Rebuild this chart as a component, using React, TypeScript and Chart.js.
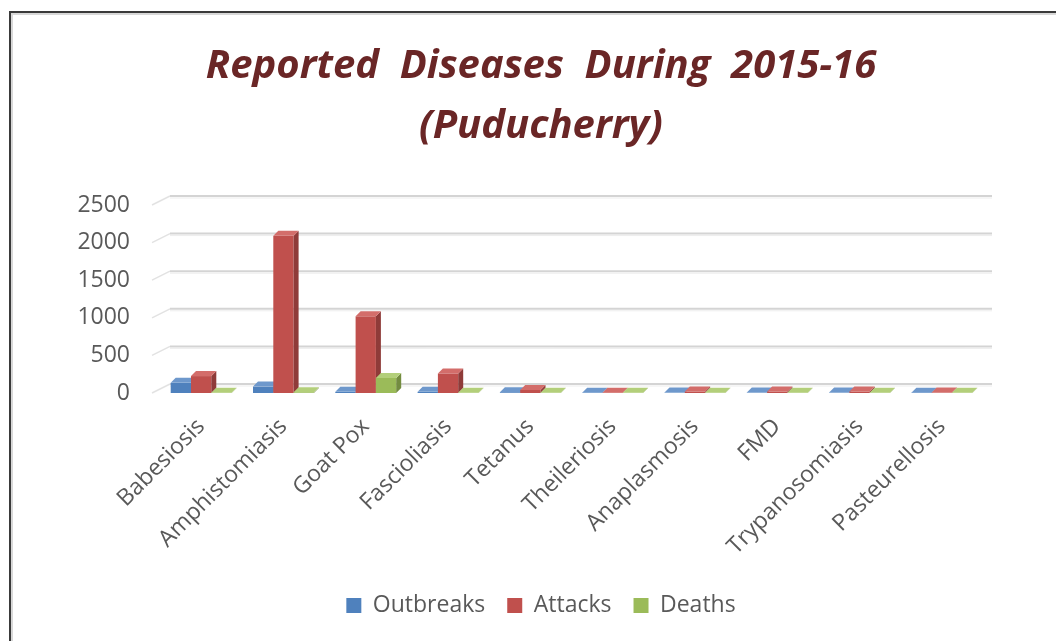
import React, { useEffect, useRef } from "react";
import { Chart, registerables } from "chart.js";

Chart.register(...registerables);

const categories = [
  "Babesiosis",
  "Amphistomiasis",
  "Goat Pox",
  "Fascioliasis",
  "Tetanus",
  "Theileriosis",
  "Anaplasmosis",
  "FMD",
  "Trypanosomiasis",
  "Pasteurellosis",
];
const outbreaks = [135, 85, 15, 15, 10, 3, 5, 5, 5, 4];
const attacks = [225, 2090, 1020, 260, 40, 4, 20, 20, 20, 6];
const deaths = [3, 10, 200, 3, 2, 2, 2, 2, 2, 2];
const yTicks = [0, 500, 1000, 1500, 2000, 2500];

const seriesNames = ["Outbreaks", "Attacks", "Deaths"];
const frontColors = ["#4f81bd", "#c0504d", "#9bbb59"];
const sideColors = ["#3a6192", "#8f3b39", "#738c40"];
const topColors = ["#6e98cc", "#d36d6a", "#b3cf7a"];

const DX = 5;
const DY = 5;
const WALL_X = 18;
const WALL_Y = 9;

const bars3d = {
  id: "bars3d",
  beforeDatasetsDraw(chart: any) {
    const ctx = chart.ctx;
    const y = chart.scales.y;
    const area = chart.chartArea;
    ctx.save();
    yTicks.forEach((v) => {
      const py = y.getPixelForValue(v);
      ctx.strokeStyle = "#e2e2e2";
      ctx.lineWidth = 1.5;
      ctx.beginPath();
      ctx.moveTo(area.left - 8, py);
      ctx.lineTo(area.left - 8 + WALL_X, py - WALL_Y);
      ctx.stroke();
      ctx.strokeStyle = "#d4d4d4";
      ctx.lineWidth = 2;
      ctx.beginPath();
      ctx.moveTo(area.left - 8 + WALL_X, py - WALL_Y);
      ctx.lineTo(area.right + 9, py - WALL_Y);
      ctx.stroke();
      ctx.strokeStyle = "#ededed";
      ctx.lineWidth = 1;
      ctx.beginPath();
      ctx.moveTo(area.left - 8 + WALL_X, py - WALL_Y + 2);
      ctx.lineTo(area.right + 9, py - WALL_Y + 2);
      ctx.stroke();
    });
    ctx.restore();
  },
  afterDatasetsDraw(chart: any) {
    const ctx = chart.ctx;
    const metas = [0, 1, 2].map((i) => chart.getDatasetMeta(i));
    ctx.save();
    for (let j = 0; j < categories.length; j++) {
      for (let i = 0; i < 3; i++) {
        const el = metas[i].data[j];
        if (!el) continue;
        const p = el.getProps(["x", "y", "base", "width"], true);
        const l = p.x - p.width / 2;
        const r = p.x + p.width / 2;
        const top = Math.min(p.y, p.base);
        const bot = Math.max(p.y, p.base);
        ctx.fillStyle = frontColors[i];
        ctx.fillRect(l, top, r - l, bot - top);
        ctx.fillStyle = sideColors[i];
        ctx.beginPath();
        ctx.moveTo(r, top);
        ctx.lineTo(r + DX, top - DY);
        ctx.lineTo(r + DX, bot - DY);
        ctx.lineTo(r, bot);
        ctx.closePath();
        ctx.fill();
        ctx.fillStyle = topColors[i];
        ctx.beginPath();
        ctx.moveTo(l, top);
        ctx.lineTo(l + DX, top - DY);
        ctx.lineTo(r + DX, top - DY);
        ctx.lineTo(r, top);
        ctx.closePath();
        ctx.fill();
      }
    }
    ctx.restore();
  },
};

export default function App() {
  const ref = useRef<HTMLCanvasElement | null>(null);

  useEffect(() => {
    document.body.style.margin = "0";
    const canvas = ref.current;
    if (!canvas) return;
    const chart = new Chart(canvas, {
      type: "bar",
      data: {
        labels: categories,
        datasets: [outbreaks, attacks, deaths].map((d, i) => ({
          label: seriesNames[i],
          data: d,
          yAxisID: "y",
          backgroundColor: "rgba(0,0,0,0)",
          borderWidth: 0,
          categoryPercentage: 0.74,
          barPercentage: 1.0,
        })),
      },
      options: {
        responsive: false,
        animation: false,
        devicePixelRatio: 1,
        layout: { padding: { left: 26, right: 0, top: 0, bottom: 14 } },
        plugins: {
          title: {
            display: true,
            text: ["Reported  Diseases  During  2015-16", "(Puducherry)"],
            color: "#6a2626",
            font: { family: "Open Sans", size: 40, weight: "bold", style: "italic", lineHeight: 1.5 },
            padding: { top: 37, bottom: 48 },
          },
          legend: {
            display: true,
            position: "bottom",
            labels: {
              color: "#595959",
              font: { family: "Open Sans", size: 23 },
              boxWidth: 15,
              boxHeight: 15,
              padding: 22,
              generateLabels: () =>
                seriesNames.map((n, i) => ({
                  text: n,
                  fillStyle: frontColors[i],
                  strokeStyle: frontColors[i],
                  lineWidth: 0,
                  datasetIndex: i,
                  fontColor: "#595959",
                })),
            },
          },
          tooltip: { enabled: false },
        },
        scales: {
          x: {
            grid: { display: false, drawTicks: false },
            border: { display: false },
            afterFit: (s: any) => {
              s.height = 179;
            },
            ticks: {
              color: "#595959",
              font: { family: "Open Sans", size: 23 },
              minRotation: 45,
              maxRotation: 45,
              padding: 20,
              autoSkip: false,
            },
          },
          y: {
            min: 0,
            max: 2500,
            position: "left",
            grid: { display: false, drawTicks: false },
            border: { display: false },
            afterFit: (s: any) => {
              s.width = 134;
            },
            afterBuildTicks: (s: any) => {
              s.ticks = yTicks.map((v) => ({ value: v }));
            },
            ticks: {
              color: "#595959",
              font: { family: "Open Sans", size: 23 },
              padding: 30,
              callback: (v: any) => String(v),
            },
          },
          yRight: {
            type: "linear",
            position: "right",
            min: 0,
            max: 2500,
            grid: { display: false, drawTicks: false },
            border: { display: false },
            ticks: { display: false },
            afterFit: (s: any) => {
              s.width = 73;
            },
          },
        },
      },
      plugins: [bars3d],
    });
    return () => chart.destroy();
  }, []);

  return (
    <div style={{ position: "fixed", left: 0, top: 0, width: 1056, height: 641, background: "#fff", overflow: "hidden" }}>
      <div
        style={{
          position: "absolute",
          left: 9,
          top: 11,
          width: 1200,
          height: 800,
          borderLeft: "2px solid #3a3a3a",
          borderTop: "2px solid #3a3a3a",
          boxShadow: "inset 2px 2px 0 #d8d8d8",
        }}
      />
      <canvas ref={ref} width={1056} height={641} style={{ position: "absolute", left: 0, top: 0 }} />
    </div>
  );
}
